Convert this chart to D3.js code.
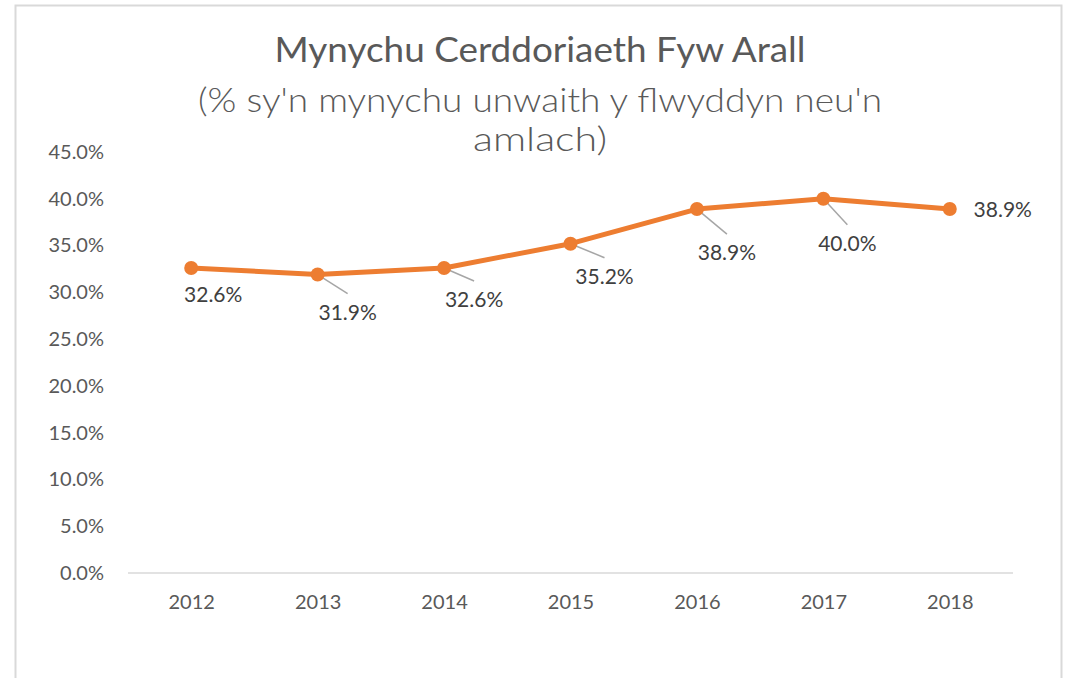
<!DOCTYPE html>
<html>
<head>
<meta charset="utf-8">
<script src="https://cdn.jsdelivr.net/npm/d3@7/dist/d3.min.js"></script>
<style>
  body { margin: 0; background: #fff; }
  svg { display: block; }
</style>
</head>
<body>
<svg id="chart" width="1068" height="678"></svg>
<script>
// data
const years = ["2012", "2013", "2014", "2015", "2016", "2017", "2018"];
const values = [32.6, 31.9, 32.6, 35.2, 38.9, 40.0, 38.9];
const yTicks = [0, 5, 10, 15, 20, 25, 30, 35, 40, 45];
const titleLines = ["Mynychu Cerddoriaeth Fyw Arall", "(% sy'n mynychu unwaith y flwyddyn neu'n", "amlach)"];

// where each data label sits relative to its point (dx, dy) and whether it gets a leader line
const labelOffsets = [[22, 27, false], [30, 38, true], [30, 32, true], [34, 33, true], [30, 44, true], [24, 45, true], [53, 1, false]];

const svg = d3.select("#chart");
const orange = "#ED7D31";
const textGray = "#595959";
const labelFont = "Lato, 'Open Sans', sans-serif";

// chart border (bottom edge runs off the picture)
svg.append("rect")
    .attr("x", 15.5).attr("y", 5.5)
    .attr("width", 1046).attr("height", 700)
    .attr("fill", "#fff")
    .attr("stroke", "#d9d9d9").attr("stroke-width", 2);

const x = d3.scalePoint().domain(years).range([128, 1013]).padding(0.5);
const y = d3.scaleLinear().domain([0, 45]).range([573, 152]);

// title
const titleSpecs = [
    {y: 62, size: 34, len: 531, weight: 400},
    {y: 112, size: 34, len: 684, weight: 300},
    {y: 151, size: 34, len: 134, weight: 300}
];
titleLines.forEach((t, i) => {
    svg.append("text")
        .attr("x", 540).attr("y", titleSpecs[i].y)
        .attr("text-anchor", "middle")
        .attr("font-family", "Lato, sans-serif")
        .attr("font-size", titleSpecs[i].size)
        .attr("font-weight", titleSpecs[i].weight)
        .attr("fill", textGray)
        .attr("textLength", titleSpecs[i].len)
        .attr("lengthAdjust", "spacingAndGlyphs")
        .text(t);
});

// y axis labels
const yAxis = svg.append("g")
    .attr("transform", "translate(128,0)")
    .call(d3.axisLeft(y).tickValues(yTicks).tickSize(0).tickPadding(24)
        .tickFormat(d => d.toFixed(1) + "%"));
yAxis.select(".domain").remove();
yAxis.selectAll("text")
    .attr("font-family", labelFont).attr("font-size", 20)
    .attr("fill", textGray);

// x axis
const xAxis = svg.append("g")
    .attr("transform", "translate(0,573)")
    .call(d3.axisBottom(x).tickSize(0).tickPadding(22));
xAxis.select(".domain").attr("stroke", "#d9d9d9").attr("stroke-width", 1.5)
    .attr("d", "M128,0H1013");
xAxis.selectAll("text")
    .attr("font-family", labelFont).attr("font-size", 20)
    .attr("fill", textGray);

const pts = years.map((yr, i) => ({yr: yr, v: values[i], off: labelOffsets[i]}));

// leader lines
svg.append("g").selectAll("line")
    .data(pts.filter(d => d.off[2]))
    .join("line")
    .attr("x1", d => x(d.yr)).attr("y1", d => y(d.v))
    .attr("x2", d => x(d.yr) + d.off[0]).attr("y2", d => y(d.v) + d.off[1] - 19)
    .attr("stroke", "#a6a6a6").attr("stroke-width", 1.5);

// line
svg.append("path")
    .datum(pts)
    .attr("fill", "none")
    .attr("stroke", orange).attr("stroke-width", 5)
    .attr("stroke-linejoin", "round")
    .attr("d", d3.line().x(d => x(d.yr)).y(d => y(d.v)));

// markers
svg.append("g").selectAll("circle")
    .data(pts)
    .join("circle")
    .attr("cx", d => x(d.yr)).attr("cy", d => y(d.v))
    .attr("r", 7)
    .attr("fill", orange);

// data labels
svg.append("g").selectAll("text")
    .data(pts)
    .join("text")
    .attr("x", d => x(d.yr) + d.off[0])
    .attr("y", d => y(d.v) + d.off[1])
    .attr("dy", "0.35em")
    .attr("text-anchor", "middle")
    .attr("font-family", labelFont).attr("font-size", 21)
    .attr("fill", "#404040")
    .text(d => d.v.toFixed(1) + "%");
</script>
</body>
</html>
